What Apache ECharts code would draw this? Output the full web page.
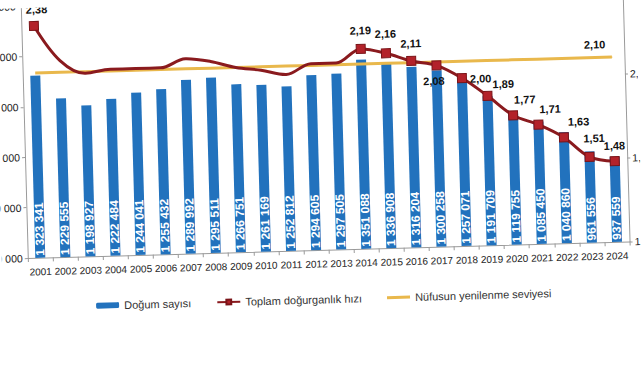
<!DOCTYPE html>
<html><head><meta charset="utf-8">
<script src="https://cdn.jsdelivr.net/npm/echarts@6/dist/echarts.min.js"></script>
<style>
html,body{margin:0;padding:0;overflow:hidden;background:#fff;}
#wrap{position:absolute;left:0;top:0;width:641px;height:380px;transform-origin:320px 190px;transform:rotate(-1.58deg);}
#chart{width:641px;height:380px;}
</style></head><body>
<div id="wrap"><div id="chart"></div></div>
<script>
const years = ['2001','2002','2003','2004','2005','2006','2007','2008','2009','2010','2011','2012',
  '2013','2014','2015','2016','2017','2018','2019','2020','2021','2022','2023','2024'];
const births = [1323341,1229555,1198927,1222484,1244041,1255432,1289992,1295511,1266751,1261169,1252812,1294605,
  1297505,1351088,1336908,1316204,1300258,1257071,1191709,1119755,1085450,1040860,961556,937559];
const tfr = [2.38,2.17,2.09,2.11,2.11,2.11,2.16,2.14,2.10,2.08,2.05,2.11,
  2.11,2.19,2.16,2.11,2.08,2.00,1.89,1.77,1.71,1.63,1.51,1.48];
const replacementLevel = 2.10;
const labelledYears = ['2001','2014','2015','2016','2017','2018','2019','2020','2021','2022','2023','2024'];
const seriesNames = ['Doğum sayısı','Toplam doğurganlık hızı','Nüfusun yenilenme seviyesi'];

const sans = "'Liberation Sans',Arial,sans-serif";
const fmtInt = n => String(n).replace(/\B(?=(\d{3})+(?!\d))/g, ' ');
const fmtDec = (v, d) => v.toFixed(d).replace('.', ',');

// label placement tweaks (style only)
const labelPlace = {
  '2001': {position:'top', offset:[3,-1]},
  '2014': {position:'top', offset:[0,-3]},
  '2015': {position:'top', offset:[0,-4]},
  '2016': {position:'top', offset:[0,-2]},
  '2017': {position:'bottom', offset:[-3,0]},
  '2018': {position:'right', offset:[-2,1]},
  '2019': {position:'top', offset:[16,4]},
  '2020': {position:'top', offset:[12,0]},
  '2021': {position:'top', offset:[12,0]},
  '2022': {position:'top', offset:[15,0]},
  '2023': {position:'top', offset:[5,-3]},
  '2024': {position:'top', offset:[0,0]}
};

const tfrData = tfr.map((v, i) => {
  const y = years[i];
  if (labelledYears.indexOf(y) >= 0) {
    return {value: v, label: Object.assign({show: true}, labelPlace[y] || {})};
  }
  return {value: v, symbol: 'none', label: {show: false}};
});
const replData = years.map((y, i) => i === years.length - 1
  ? {value: replacementLevel, symbol: 'circle', symbolSize: 1,
     label: {show: true, position: 'top', offset: [-17, -2]}}
  : {value: replacementLevel, symbol: 'none'});

const chart = echarts.init(document.getElementById('chart'), null, {renderer: 'svg'});
chart.setOption({
  animation: false,
  backgroundColor: '#fff',
  grid: {left: 26, right: 13, top: -2, bottom: 130, containLabel: false, outerBoundsMode: 'none'},
  legend: {
    data: [
      {name: seriesNames[0]},
      {name: seriesNames[1]},
      {name: seriesNames[2], icon: 'path://M0,0H60V8H0Z'}
    ],
    left: 88, top: 289,
    itemGap: 25, itemWidth: 23, itemHeight: 6,
    textStyle: {fontFamily: sans, fontSize: 11, color: '#333'}
  },
  xAxis: {
    type: 'category', data: years,
    axisLine: {lineStyle: {color: '#9a9a9a'}},
    axisTick: {show: true, alignWithLabel: false, length: 4, lineStyle: {color: '#9a9a9a'}},
    axisLabel: {interval: 0, margin: 9, fontFamily: sans, fontSize: 10, color: '#222', hideOverlap: false}
  },
  yAxis: [{
    type: 'value', min: 600000, max: 1600000, interval: 200000,
    axisLine: {show: true, lineStyle: {color: '#9a9a9a'}},
    axisTick: {show: true, length: 3, lineStyle: {color: '#9a9a9a'}},
    splitLine: {show: false},
    axisLabel: {margin: 5, fontFamily: sans, fontSize: 10.5, color: '#222', formatter: v => fmtInt(v)}
  }, {
    type: 'value', min: 1.0, max: 2.5, interval: 0.5, position: 'right',
    axisLine: {show: true, lineStyle: {color: '#9a9a9a'}},
    axisTick: {show: true, length: 3, lineStyle: {color: '#9a9a9a'}},
    splitLine: {show: false},
    axisLabel: {margin: 5, fontFamily: sans, fontSize: 10.5, color: '#222', formatter: v => fmtDec(v, 1)}
  }],
  series: [{
    name: seriesNames[0], type: 'bar', data: births, barWidth: 10,
    itemStyle: {color: '#2272bd'},
    label: {
      show: true, position: 'insideBottom', distance: 2, rotate: 90,
      align: 'left', verticalAlign: 'middle',
      fontFamily: sans, fontSize: 12, fontWeight: 'bold', color: '#fff',
      formatter: p => fmtInt(p.value)
    }
  }, {
    name: seriesNames[2], type: 'line', yAxisIndex: 1, data: replData,
    symbol: 'none', lineStyle: {color: '#e9b84c', width: 3}, itemStyle: {color: '#e9b84c'},
    label: {fontFamily: sans, fontSize: 11, fontWeight: 'bold', color: '#111', formatter: p => fmtDec(p.value, 2)},
    z: 3
  }, {
    name: seriesNames[1], type: 'line', yAxisIndex: 1, data: tfrData, smooth: 0.35,
    symbol: 'rect', symbolSize: 9,
    lineStyle: {color: '#8a1a1e', width: 3},
    itemStyle: {color: '#b3222a', borderColor: '#7a1418', borderWidth: 1},
    label: {fontFamily: sans, fontSize: 11, fontWeight: 'bold', color: '#111', formatter: p => fmtDec(p.value, 2)},
    z: 4
  }]
});
</script>
</body></html>
